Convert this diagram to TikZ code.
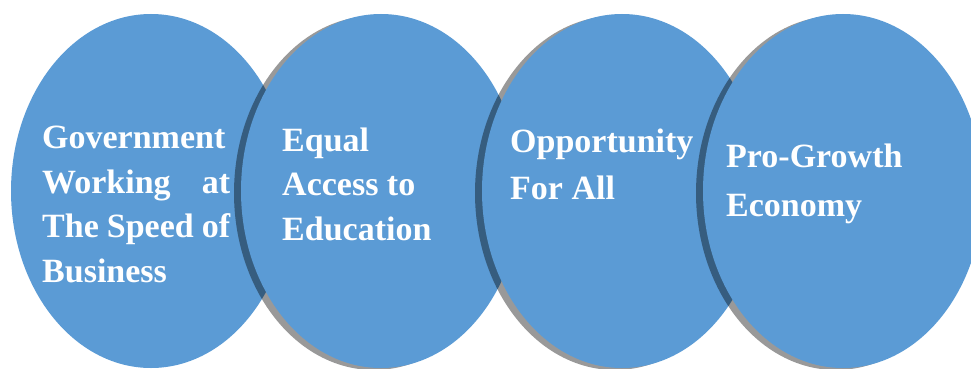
\documentclass[tikz,border=0pt]{standalone}
\usepackage{fontspec}
\setmainfont{Liberation Serif}
\definecolor{bubble}{HTML}{5B9BD5}
\begin{document}
\begin{tikzpicture}[x=1pt,y=-1pt,
  bubblefill/.style={fill=bubble},
  bubbleshadow/.style={fill=black,opacity=0.4},
  lbl/.style={anchor=base west,inner sep=0pt,text=white,font=\fontsize{34}{40}\selectfont\bfseries}]
\useasboundingbox (0,0) rectangle (971,369);
\clip (0,0) rectangle (971,369);
% ellipse centres
\coordinate (c1) at (151,191);
\coordinate (c2) at (381,191);
\coordinate (c3) at (622,191);
\coordinate (c4) at (843,191);
% ellipses with shadows
\fill[bubblefill] (c1) ellipse [x radius=140, y radius=177];
\fill[bubbleshadow] ([shift={(-7,2)}]c2) ellipse [x radius=140, y radius=177];
\fill[bubblefill] (c2) ellipse [x radius=140, y radius=177];
\fill[bubbleshadow] ([shift={(-7,2)}]c3) ellipse [x radius=140, y radius=177];
\fill[bubblefill] (c3) ellipse [x radius=140, y radius=177];
\fill[bubbleshadow] ([shift={(-7,2)}]c4) ellipse [x radius=140, y radius=177];
\fill[bubblefill] (c4) ellipse [x radius=140, y radius=177];
% texts
\node[lbl] (a1) at (42,148) {\makebox[188pt][s]{Government}};
\node[lbl] (a2) at (42,193) {\makebox[188pt][s]{Working\hfill at}};
\node[lbl] (a3) at (42,237) {\makebox[188pt][s]{The Speed of}};
\node[lbl] (a4) at (42,282) {Business};
\node[lbl] (b1) at (282,151) {Equal};
\node[lbl] (b2) at (282,195) {Access to};
\node[lbl] (b3) at (282,240) {Education};
\node[lbl] (d1) at (510,152) {Opportunity};
\node[lbl] (d2) at (510,199) {For All};
\node[lbl] (e1) at (726,167) {Pro-Growth};
\node[lbl] (e2) at (726,216) {Economy};
\end{tikzpicture}
\end{document}
